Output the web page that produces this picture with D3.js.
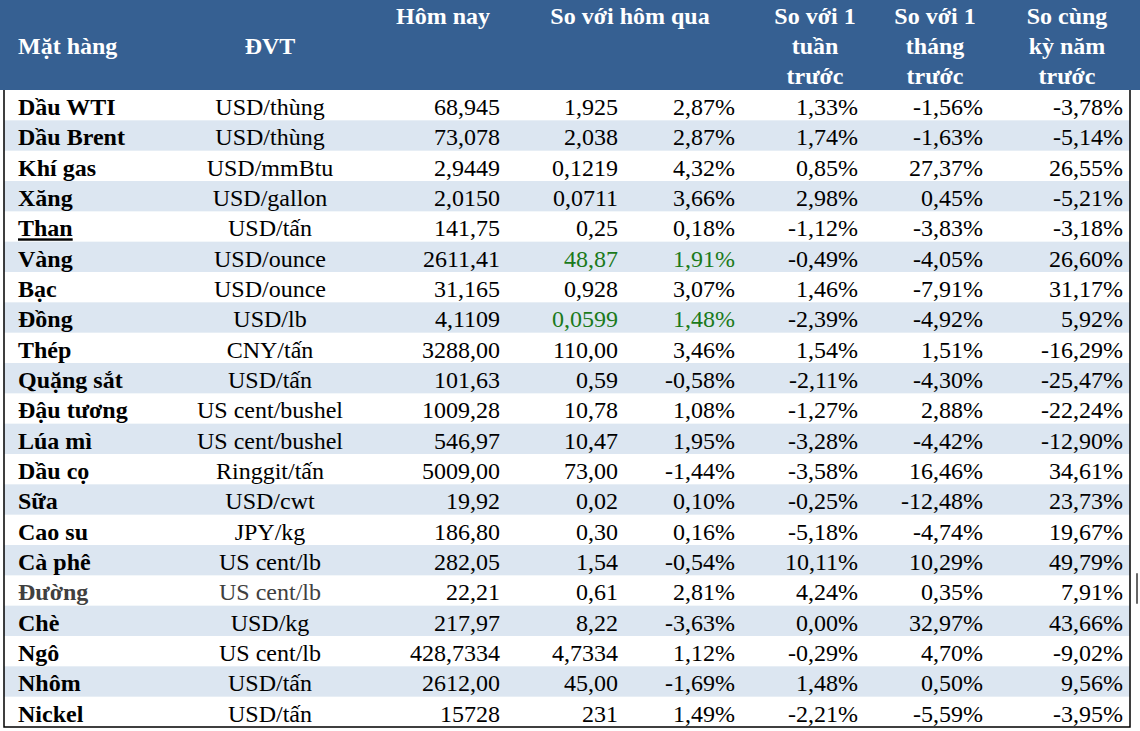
<!DOCTYPE html>
<html>
<head>
<meta charset="utf-8">
<script src="https://cdn.jsdelivr.net/npm/d3@7"></script>
<style>
  html, body { margin: 0; padding: 0; background: #fff; }
</style>
</head>
<body>
<div id="chart"></div>
<script>
// table values
var items = ["Dầu WTI", "Dầu Brent", "Khí gas", "Xăng", "Than", "Vàng", "Bạc", "Đồng", "Thép", "Quặng sắt",
  "Đậu tương", "Lúa mì", "Dầu cọ", "Sữa", "Cao su", "Cà phê", "Đường", "Chè", "Ngô", "Nhôm", "Nickel"]
var units = ["USD/thùng", "USD/thùng", "USD/mmBtu", "USD/gallon", "USD/tấn", "USD/ounce", "USD/ounce", "USD/lb",
  "CNY/tấn", "USD/tấn", "US cent/bushel", "US cent/bushel", "Ringgit/tấn", "USD/cwt", "JPY/kg", "US cent/lb",
  "US cent/lb", "USD/kg", "US cent/lb", "USD/tấn", "USD/tấn"]
var today = ["68,945", "73,078", "2,9449", "2,0150", "141,75", "2611,41", "31,165", "4,1109", "3288,00", "101,63",
  "1009,28", "546,97", "5009,00", "19,92", "186,80", "282,05", "22,21", "217,97", "428,7334", "2612,00", "15728"]
var dayChange = ["1,925", "2,038", "0,1219", "0,0711", "0,25", "48,87", "0,928", "0,0599", "110,00", "0,59",
  "10,78", "10,47", "73,00", "0,02", "0,30", "1,54", "0,61", "8,22", "4,7334", "45,00", "231"]
var dayPct = ["2,87%", "2,87%", "4,32%", "3,66%", "0,18%", "1,91%", "3,07%", "1,48%", "3,46%", "-0,58%",
  "1,08%", "1,95%", "-1,44%", "0,10%", "0,16%", "-0,54%", "2,81%", "-3,63%", "1,12%", "-1,69%", "1,49%"]
var weekPct = ["1,33%", "1,74%", "0,85%", "2,98%", "-1,12%", "-0,49%", "1,46%", "-2,39%", "1,54%", "-2,11%",
  "-1,27%", "-3,28%", "-3,58%", "-0,25%", "-5,18%", "10,11%", "4,24%", "0,00%", "-0,29%", "1,48%", "-2,21%"]
var monthPct = ["-1,56%", "-1,63%", "27,37%", "0,45%", "-3,83%", "-4,05%", "-7,91%", "-4,92%", "1,51%", "-4,30%",
  "2,88%", "-4,42%", "16,46%", "-12,48%", "-4,74%", "10,29%", "0,35%", "32,97%", "4,70%", "0,50%", "-5,59%"]
var yearPct = ["-3,78%", "-5,14%", "26,55%", "-5,21%", "-3,18%", "26,60%", "31,17%", "5,92%", "-16,29%", "-25,47%",
  "-22,24%", "-12,90%", "34,61%", "23,73%", "19,67%", "49,79%", "7,91%", "43,66%", "-9,02%", "9,56%", "-3,95%"]
var headers = [["Mặt hàng"], ["ĐVT"], ["Hôm nay"], ["So với hôm qua"], ["So với 1", "tuần", "trước"],
  ["So với 1", "tháng", "trước"], ["So cùng", "kỳ năm", "trước"]]
var greenItems = ["Vàng", "Đồng"]

var width = 1140, height = 731
var headH = 90, tableL = 4, tableR = 1130, tableB = 727
var fontSize = 24
var serif = "'Liberation Serif', Tinos, 'Times New Roman', Times, 'Nimbus Roman', 'Nimbus Roman No9 L', " +
  "'Noto Serif', 'DejaVu Serif', FreeSerif, serif"

var svg = d3.select("#chart")
  .append("svg")
  .attr("width", width)
  .attr("height", height)
  .attr("font-family", serif)

// row scale
var yRow = d3.scaleBand()
  .domain(items)
  .range([headH, tableB])

// column layout: x and anchor
var cols = [
  { key: "item", x: 18, anchor: "start", vals: items },
  { key: "unit", x: 270, anchor: "middle", vals: units },
  { key: "today", x: 500, anchor: "end", vals: today },
  { key: "dayChange", x: 618, anchor: "end", vals: dayChange },
  { key: "dayPct", x: 735, anchor: "end", vals: dayPct },
  { key: "weekPct", x: 858, anchor: "end", vals: weekPct },
  { key: "monthPct", x: 983, anchor: "end", vals: monthPct },
  { key: "yearPct", x: 1123, anchor: "end", vals: yearPct }
]
var headerX = [18, 270, 443, 630, 815, 935, 1067]
var headerAnchor = ["start", "middle", "middle", "middle", "middle", "middle", "middle"]
var headerTop = [54, 54, 24, 24, 24, 24, 24]

// header band
svg.append("rect")
  .attr("x", 0)
  .attr("y", 0)
  .attr("width", width)
  .attr("height", headH)
  .attr("fill", "#366092")

// zebra stripes
svg.append("g")
  .selectAll("rect")
  .data(items.filter((d, i) => i % 2 === 1))
  .enter()
  .append("rect")
  .attr("x", tableL)
  .attr("y", d => yRow(d))
  .attr("width", tableR - tableL)
  .attr("height", yRow.bandwidth())
  .attr("fill", "#dce6f1")

// header text
var headG = svg.append("g").attr("class", "header")
headers.forEach(function(lines, i) {
  var t = headG.append("text")
    .attr("text-anchor", headerAnchor[i])
    .style("font-family", serif)
    .style("font-size", fontSize + "px")
    .style("font-weight", "bold")
    .style("fill", "white")
  lines.forEach(function(line, j) {
    t.append("tspan")
      .attr("x", headerX[i])
      .attr("y", headerTop[i] + j * 30)
      .text(line)
  })
})

// body cells
var bodyG = svg.append("g").attr("class", "body")
cols.forEach(function(c) {
  bodyG.append("g")
    .selectAll("text")
    .data(items)
    .enter()
    .append("text")
    .attr("x", c.x)
    .attr("y", d => yRow(d) + 25)
    .attr("text-anchor", c.anchor)
    .style("font-family", serif)
    .style("font-size", fontSize + "px")
    .style("font-weight", c.key === "item" ? "bold" : "normal")
    .style("text-decoration", d => (c.key === "item" && d === "Than") ? "underline" : null)
    .style("fill", function(d) {
      if ((c.key === "dayChange" || c.key === "dayPct") && greenItems.indexOf(d) >= 0) return "#1b7a1b"
      if (d === "Đường" && (c.key === "item" || c.key === "unit")) return "#404040"
      return "#000"
    })
    .text((d, i) => c.vals[i])
})

// table border (left, right, bottom)
svg.append("path")
  .attr("d", d3.line()([[tableL, headH], [tableL, tableB], [tableR, tableB], [tableR, headH]]))
  .attr("fill", "none")
  .attr("stroke", "#000")
  .attr("stroke-width", 1.5)

// stray edge mark beside the Đường row
svg.append("line")
  .attr("x1", 1137)
  .attr("x2", 1137)
  .attr("y1", yRow("Đường") - 2)
  .attr("y2", yRow("Đường") + yRow.bandwidth() - 2)
  .attr("stroke", "#333")
  .attr("stroke-width", 1.5)
</script>
</body>
</html>
